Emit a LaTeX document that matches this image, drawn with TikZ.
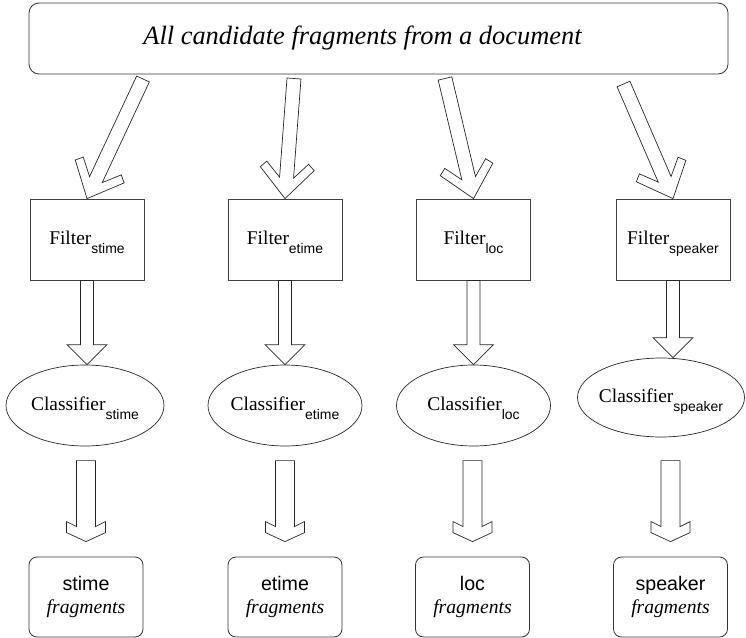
\documentclass[tikz,border=0pt]{standalone}
\usepackage{fontspec}
\setmainfont{Liberation Serif}
\setsansfont{Liberation Sans}
\usetikzlibrary{calc,shapes.geometric}

% #1 tail, #2 tip, #3 shaft half width, #4 u outer wing, #5 v outer wing,
% #6 u inner wing, #7 v inner wing, #8 u shaft junction
\newcommand\blockarrow[8]{%
 \draw[barrow]
  ($(#1)!#3!-90:(#2)$) --
  ($(#2)!#8!(#1)!#3!90:(#1)$) --
  ($(#2)!#6!(#1)!#7!90:(#1)$) --
  ($(#2)!#4!(#1)!#5!90:(#1)$) --
  (#2) --
  ($(#2)!#4!(#1)!#5!-90:(#1)$) --
  ($(#2)!#6!(#1)!#7!-90:(#1)$) --
  ($(#2)!#8!(#1)!#3!-90:(#1)$) --
  ($(#1)!#3!90:(#2)$) -- cycle;}
\newcommand\subsf[1]{\raisebox{-8.5bp}{\fontsize{14}{16}\sffamily #1}}

\tikzset{
  barrow/.style={draw=black!85, line width=0.7bp, line join=miter},
  topbox/.style={draw=black!80, line width=0.8bp, rounded corners=10bp,
    minimum width=699bp, minimum height=71bp, inner sep=0pt,
    font=\fontsize{26.5}{30}\selectfont\itshape},
  filterbox/.style={draw=black!75, line width=0.8bp, minimum width=114bp,
    minimum height=81bp, inner sep=0pt, text height=13.3bp, text depth=3bp,
    font=\fontsize{19.5}{22}\selectfont},
  clsell/.style={draw=black!85, line width=0.7bp, ellipse, inner sep=0pt,
    minimum height=81bp, text height=13.3bp, text depth=3bp,
    font=\fontsize{19.5}{22}\selectfont},
  outbox/.style={draw=black!80, line width=0.8bp, rounded corners=8bp,
    minimum width=114bp, minimum height=80bp, inner sep=0pt, align=center,
    font=\fontsize{19.7}{23}\selectfont}
}

\begin{document}
\begin{tikzpicture}[x=1bp, y=-1bp]
\useasboundingbox (0,0) rectangle (746,638);

% top box
\node[topbox] (top) at (378.5,38.5) {All candidate fragments from a document\hspace*{32bp}};

% filters
\node[filterbox] (f1) at (87,239.5) {Filter\subsf{stime}};
\node[filterbox] (f2) at (285,239.5) {Filter\subsf{etime}};
\node[filterbox] (f3) at (473.5,239.5) {Filter\subsf{loc}};
\node[filterbox] (f4) at (673,239.5) {Filter\subsf{speaker}};

% classifiers
\node[clsell, minimum width=158bp] (e1) at (85,405.5) {\makebox[0pt]{Classifier\subsf{stime}}};
\node[clsell, minimum width=154bp] (e2) at (285,405.5) {\makebox[0pt]{Classifier\subsf{etime}}};
\node[clsell, minimum width=154bp] (e3) at (473.5,405.5) {\makebox[0pt]{Classifier\subsf{loc}}};
\node[clsell, minimum width=167bp, minimum height=79bp] (e4) at (661,397.5) {\makebox[0pt]{Classifier\subsf{speaker}}};

% outputs
\node[outbox] (o1) at (86,597) {{\sffamily stime}\\{\itshape fragments}};
\node[outbox] (o2) at (285,597) {{\sffamily etime}\\{\itshape fragments}};
\node[outbox] (o3) at (472.5,597) {{\sffamily loc}\\{\itshape fragments}};
\node[outbox] (o4) at (670.5,597) {{\sffamily speaker}\\{\itshape fragments}};

% free ends of the top arrows
\coordinate (t1) at (143,79);
\coordinate (t2) at (294,78.5);
\coordinate (t3) at (445,78.5);
\coordinate (t4) at (623.5,84);

% tips of middle arrows
\coordinate (m1) at (f1.south |- e1.north);
\coordinate (m2) at (f2.south |- e2.north);
\coordinate (m3) at (f3.south |- e3.north);
\coordinate (m4) at (f4.south |- e4.north);

% bottom arrows
\coordinate (b1) at ($(o1.north)+(0,-96)$);
\coordinate (b2) at ($(o2.north)+(0,-96)$);
\coordinate (b3) at ($(o3.north)+(0,-96)$);
\coordinate (b4) at ($(o4.north)+(0,-96)$);
\coordinate (c1) at ($(o1.north)+(0,-15)$);
\coordinate (c2) at ($(o2.north)+(0,-15)$);
\coordinate (c3) at ($(o3.north)+(0,-15)$);
\coordinate (c4) at ($(o4.north)+(0,-15)$);

\blockarrow{t1}{f1.north}{7bp}{30bp}{27bp}{36bp}{21bp}{21bp}
\blockarrow{t2}{f2.north}{7bp}{30bp}{27bp}{36bp}{21bp}{21bp}
\blockarrow{t3}{f3.north}{7bp}{30bp}{27bp}{36bp}{21bp}{21bp}
\blockarrow{t4}{f4.north}{7bp}{30bp}{27bp}{36bp}{21bp}{21bp}

\blockarrow{f1.south}{m1}{6.5bp}{20bp}{20bp}{20bp}{20bp}{20bp}
\blockarrow{f2.south}{m2}{6.5bp}{20bp}{20bp}{20bp}{20bp}{20bp}
\blockarrow{f3.south}{m3}{6.5bp}{20bp}{20bp}{20bp}{20bp}{20bp}
\blockarrow{f4.south}{m4}{6.5bp}{20bp}{20bp}{20bp}{20bp}{20bp}

\blockarrow{b1}{c1}{9.5bp}{9bp}{19.5bp}{20bp}{19.5bp}{15bp}
\blockarrow{b2}{c2}{9.5bp}{9bp}{19.5bp}{20bp}{19.5bp}{15bp}
\blockarrow{b3}{c3}{9.5bp}{9bp}{19.5bp}{20bp}{19.5bp}{15bp}
\blockarrow{b4}{c4}{9.5bp}{9bp}{19.5bp}{20bp}{19.5bp}{15bp}
\end{tikzpicture}
\end{document}
